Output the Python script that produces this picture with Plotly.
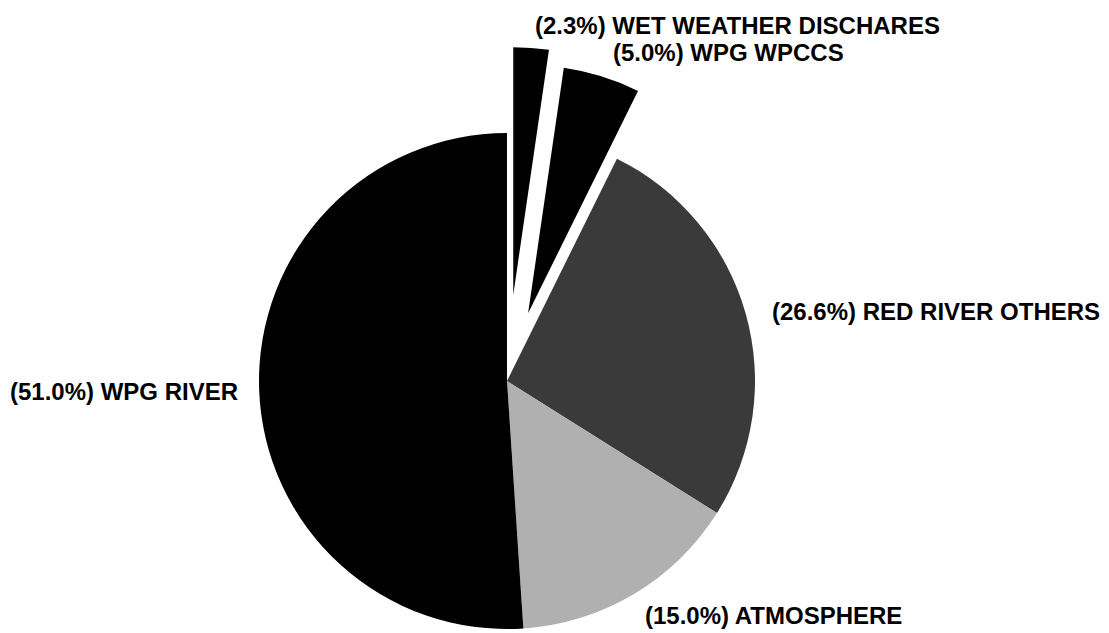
import math
import plotly.graph_objects as go

# ---- data ----
labels = ["WET WEATHER DISCHARES", "WPG WPCCS", "RED RIVER OTHERS", "ATMOSPHERE", "WPG RIVER"]
values = [2.3, 5.0, 26.6, 15.0, 51.0]
label_texts = [f"({v:.1f}%) {n}" for v, n in zip(values, labels)]

# ---- styles ----
colors = ["#000000", "#000000", "#3a3a3a", "#b0b0b0", "#000000"]
pulls = [0.347, 0.286, 0, 0, 0]   # fraction of radius
OFF = 8                            # default page body margin
W, H = 1109 - OFF, 633 - OFF
CX, CY, R = 507 - OFF, 381 - OFF, 248   # pie centre / radius in px
FONT = dict(family="Liberation Sans, Arial, sans-serif", size=24, color="black")

total = sum(values)
fig = go.Figure()

def domain_for(cx, cy, r):
    return dict(x=[(cx - r) / W, (cx + r) / W], y=[(H - cy - r) / H, (H - cy + r) / H])

# main (un-pulled) pie
main_colors = [("rgba(0,0,0,0)" if p > 0 else c) for c, p in zip(colors, pulls)]
fig.add_trace(go.Pie(labels=labels, values=values, sort=False, direction="clockwise",
                     rotation=0, textinfo="none", hoverinfo="label+percent",
                     marker=dict(colors=main_colors, line=dict(width=0)),
                     domain=domain_for(CX, CY, R), showlegend=False))

# exploded slices as separate pies offset along their mid angle
cum = 0
for i, v in enumerate(values):
    mid = (cum + v / 2) / total * 2 * math.pi
    cum += v
    if pulls[i] <= 0:
        continue
    d = pulls[i] * R
    cx = CX + d * math.sin(mid)
    cy = CY - d * math.cos(mid)
    cols = [colors[j] if j == i else "rgba(0,0,0,0)" for j in range(len(values))]
    fig.add_trace(go.Pie(labels=labels, values=values, sort=False, direction="clockwise",
                         rotation=0, textinfo="none", hoverinfo="label+percent",
                         marker=dict(colors=cols, line=dict(width=0)),
                         domain=domain_for(cx, cy, R), showlegend=False))

# label positions (px in reference: left x, centre y)
label_pos = [(533, 25), (611, 53), (770, 312), (643, 615), (8, 392)]
for t, (lx, ly) in zip(label_texts, label_pos):
    fig.add_annotation(text="<b>" + t + "</b>", x=(lx - OFF) / W, y=1 - (ly - OFF) / H,
                       xref="paper", yref="paper", xanchor="left", yanchor="middle",
                       showarrow=False, font=FONT)

fig.update_layout(width=W, height=H, margin=dict(l=0, r=0, t=0, b=0),
                  paper_bgcolor="white", plot_bgcolor="white", showlegend=False)
fig.write_html("out.html")
